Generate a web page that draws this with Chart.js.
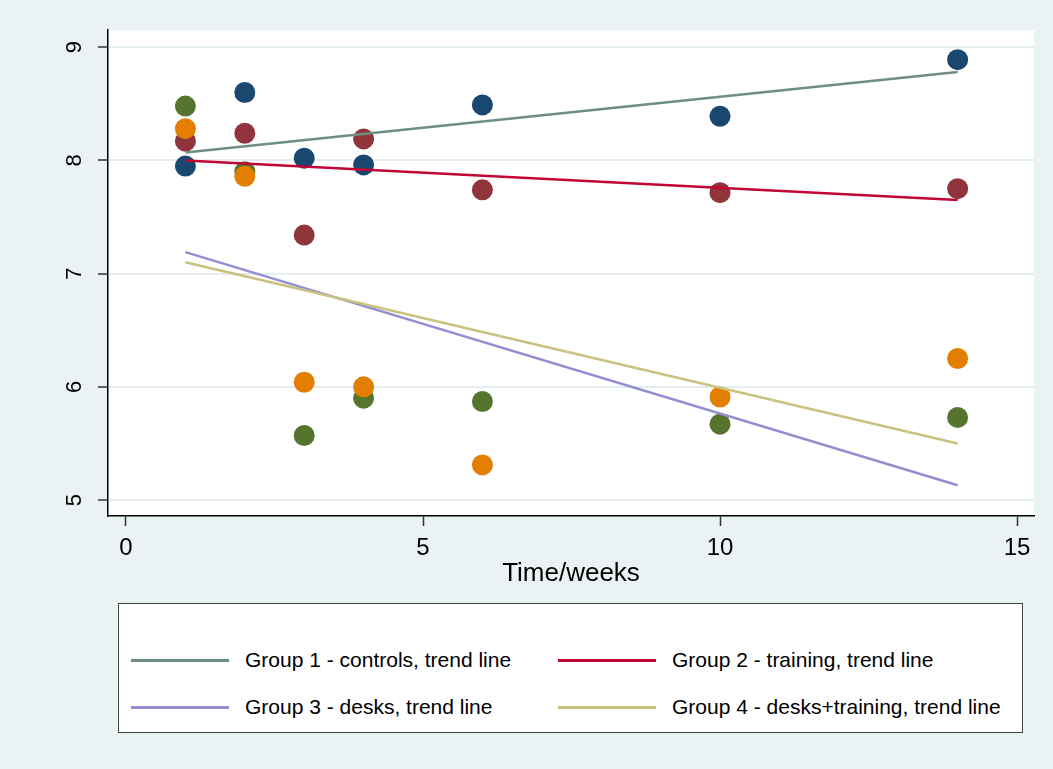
<!DOCTYPE html>
<html>
<head>
<meta charset="utf-8">
<script src="https://cdn.jsdelivr.net/npm/chart.js@4.4.1/dist/chart.umd.min.js"></script>
<style>
  html, body { margin: 0; padding: 0; background: #eaf2f3; }
  #wrap { position: relative; width: 1053px; height: 769px; background: #eaf2f3; overflow: hidden; }
  #c { position: absolute; left: 0; top: 0; }
  #legend {
    position: absolute; left: 118px; top: 603px; width: 903px; height: 128px;
    background: #ffffff; border: 1.5px solid #444; box-sizing: content-box;
    font-family: "Liberation Sans", Arial, sans-serif; font-size: 21px; color: #000;
  }
  .item { position: absolute; display: flex; align-items: center; height: 30px; white-space: nowrap; }
  .swatch { width: 98px; height: 3px; margin-right: 16px; }
</style>
</head>
<body>
<div id="wrap">
  <canvas id="c" width="1053" height="769"></canvas>
  <div id="legend"></div>
</div>
<script>
// ---- data ----
const weeks  = [1, 2, 3, 4, 6, 10, 14];
const group1 = [7.95, 8.60, 8.02, 7.96, 8.49, 8.39, 8.89];   // controls
const group2 = [8.17, 8.24, 7.34, 8.19, 7.74, 7.715, 7.75];  // training
const group3 = [8.48, 7.90, 5.57, 5.90, 5.87, 5.67, 5.73];   // desks
const group4 = [8.28, 7.86, 6.04, 6.00, 5.31, 5.91, 6.25];   // desks+training

const trendX = [1, 14];
const trend1 = [8.07, 8.78];
const trend2 = [8.00, 7.65];
const trend3 = [7.19, 5.13];
const trend4 = [7.10, 5.50];

const xTicks = [0, 5, 10, 15];
const yTicks = [5, 6, 7, 8, 9];
const xTitle = 'Time/weeks';

const trendLabels = [
  'Group 1 - controls, trend line',
  'Group 2 - training, trend line',
  'Group 3 - desks, trend line',
  'Group 4 - desks+training, trend line'
];

// ---- styling ----
const markerColors = ['#1a476f', '#90353b', '#55752f', '#e37e00'];
const lineColors   = ['#6e8e84', '#c10534', '#938dd2', '#cac27e'];

const pts = (xs, ys) => xs.map((x, i) => ({ x: x, y: ys[i] }));

const groups = [group1, group2, group3, group4];
const trends = [trend1, trend2, trend3, trend4];

const datasets = [];
// trend lines drawn on top (lowest order)
trends.forEach((t, i) => {
  datasets.push({
    label: trendLabels[i],
    data: pts(trendX, t),
    showLine: true,
    borderColor: lineColors[i],
    backgroundColor: lineColors[i],
    borderWidth: 2.5,
    pointRadius: 0,
    pointHoverRadius: 0,
    order: 1 + (3 - i) * 0.01,
    isTrend: true
  });
});
groups.forEach((g, i) => {
  datasets.push({
    label: 'Group ' + (i + 1),
    data: pts(weeks, g),
    showLine: false,
    backgroundColor: markerColors[i],
    borderColor: markerColors[i],
    pointRadius: 10.5,
    pointBorderWidth: 0,
    pointHoverRadius: 10.5,
    order: 10 - i,
    isTrend: false
  });
});

const font = "'Liberation Sans', Arial, sans-serif";

const chart = new Chart(document.getElementById('c'), {
  type: 'scatter',
  data: { datasets: datasets },
  options: {
    responsive: false,
    animation: false,
    events: [],
    layout: { padding: { left: 0, top: 30, right: 19, bottom: 180 } },
    plugins: {
      legend: { display: false },
      tooltip: { enabled: false }
    },
    scales: {
      x: {
        type: 'linear',
        min: -0.303,
        max: 15.286,
        afterBuildTicks: s => { s.ticks = xTicks.map(v => ({ value: v })); },
        afterFit: s => { s.height = 73; },
        grid: { drawOnChartArea: false, drawTicks: true, tickLength: 10, tickColor: '#333', tickWidth: 1.5 },
        border: { display: true, color: '#000', width: 1.5 },
        ticks: { color: '#000', font: { family: font, size: 24 }, padding: 8, maxRotation: 0, autoSkip: false },
        title: { display: true, text: xTitle, color: '#000', font: { family: font, size: 26 }, padding: 0 }
      },
      y: {
        type: 'linear',
        min: 4.859,
        max: 9.150,
        afterBuildTicks: s => { s.ticks = yTicks.map(v => ({ value: v })); },
        afterFit: s => { s.width = 108; },
        grid: { drawOnChartArea: true, color: '#e4edef', lineWidth: 2, drawTicks: true, tickLength: 10, tickColor: '#333', tickWidth: 1.5 },
        border: { display: true, color: '#000', width: 1.5 },
        ticks: { color: '#000', font: { family: font, size: 22 }, padding: 17, minRotation: 90, maxRotation: 90, crossAlign: 'center', autoSkip: false }
      }
    }
  },
  plugins: [{
    id: 'plotBg',
    beforeDraw(ch) {
      const { ctx, chartArea: a } = ch;
      ctx.save();
      ctx.fillStyle = '#ffffff';
      ctx.fillRect(a.left, a.top, a.right - a.left, a.bottom - a.top);
      ctx.restore();
    }
  }]
});

// HTML legend built from the chart's trend datasets
const legend = document.getElementById('legend');
const trendSets = chart.data.datasets.filter(d => d.isTrend);
const colLeft = [12, 439];
const rowTop = [41, 88];
trendSets.forEach((d, i) => {
  const el = document.createElement('div');
  el.className = 'item';
  el.style.left = colLeft[i % 2] + 'px';
  el.style.top = rowTop[Math.floor(i / 2)] + 'px';
  const sw = document.createElement('span');
  sw.className = 'swatch';
  sw.style.background = d.borderColor;
  const tx = document.createElement('span');
  tx.textContent = d.label;
  el.appendChild(sw);
  el.appendChild(tx);
  legend.appendChild(el);
});
</script>
</body>
</html>
